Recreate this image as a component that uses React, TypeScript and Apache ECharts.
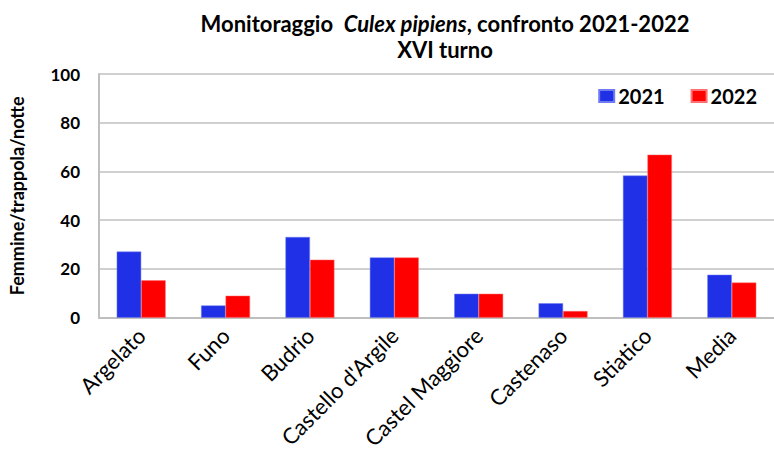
import React, { useEffect, useRef } from "react";
import * as echarts from "echarts";

const categories = [
  "Argelato",
  "Funo",
  "Budrio",
  "Castello d'Argile",
  "Castel Maggiore",
  "Castenaso",
  "Stiatico",
  "Media",
];
const values2021 = [27.1, 5.0, 33.1, 24.7, 9.8, 5.9, 58.3, 17.6];
const values2022 = [15.3, 9.0, 23.8, 24.7, 9.8, 2.7, 66.9, 14.4];
const yTicks = { min: 0, max: 100, interval: 20 };

const FONT = "Lato, 'Open Sans', sans-serif";

export default function App() {
  const ref = useRef<HTMLDivElement>(null);
  useEffect(() => {
    if (!ref.current) return;
    const chart = echarts.init(ref.current, null, { renderer: "svg" });
    chart.setOption({
      animation: false,
      backgroundColor: "#ffffff",
      textStyle: { fontFamily: FONT },
      title: {
        text: "{a|Monitoraggio  }{b|Culex pipiens}{a|, confronto 2021-2022}",
        subtext: "XVI turno",
        left: 440,
        top: 7,
        textAlign: "center",
        itemGap: 4,
        textStyle: {
          rich: {
            a: { fontFamily: FONT, fontWeight: "bold", fontSize: 22, color: "#000" },
            b: { fontFamily: FONT, fontWeight: "bold", fontStyle: "italic", fontSize: 22, color: "#000" },
          },
        },
        subtextStyle: { fontFamily: FONT, fontWeight: "bold", fontSize: 22, color: "#000" },
      },
      legend: {
        data: ["2021", "2022"],
        right: 12,
        top: 81,
        itemWidth: 15,
        itemHeight: 12,
        itemGap: 26,
        icon: "rect",
        textStyle: { fontFamily: FONT, fontWeight: "bold", fontSize: 20, color: "#000", padding: [0, 0, 0, -1] },
      },
      grid: { left: 97, right: 0, top: 74, bottom: 134, containLabel: false },
      xAxis: {
        type: "category",
        data: categories,
        axisLine: { lineStyle: { color: "#bfbfbf", width: 2 } },
        axisTick: { show: false },
        axisLabel: {
          rotate: 45,
          interval: 0,
          margin: 14,
          fontFamily: FONT,
          fontSize: 22,
          color: "#000",
        },
      },
      yAxis: {
        type: "value",
        min: yTicks.min,
        max: yTicks.max,
        interval: yTicks.interval,
        name: "Femmine/trappola/notte",
        nameLocation: "middle",
        nameGap: 73,
        nameRotate: 90,
        nameTextStyle: { fontFamily: FONT, fontWeight: "bold", fontSize: 18, color: "#000" },
        axisLine: { show: true, lineStyle: { color: "#bfbfbf", width: 2 } },
        axisTick: { show: false },
        splitLine: { lineStyle: { color: "#c0c0c0", width: 1.5 } },
        axisLabel: {
          margin: 19,
          fontFamily: FONT,
          fontWeight: "bold",
          fontSize: 17,
          color: "#000",
        },
      },
      series: [
        {
          name: "2021",
          type: "bar",
          data: values2021,
          barGap: "0%",
          barCategoryGap: "42%",
          itemStyle: { color: "#1f30e6", borderColor: "#6f7cf0", borderWidth: 0.5 },
        },
        {
          name: "2022",
          type: "bar",
          data: values2022,
          itemStyle: { color: "#ff0000", borderColor: "#ff7070", borderWidth: 0.5 },
        },
      ],
    });
    return () => chart.dispose();
  }, []);
  return (
    <div
      ref={ref}
      style={{ position: "fixed", left: 0, top: 0, width: 774, height: 452 }}
    />
  );
}
